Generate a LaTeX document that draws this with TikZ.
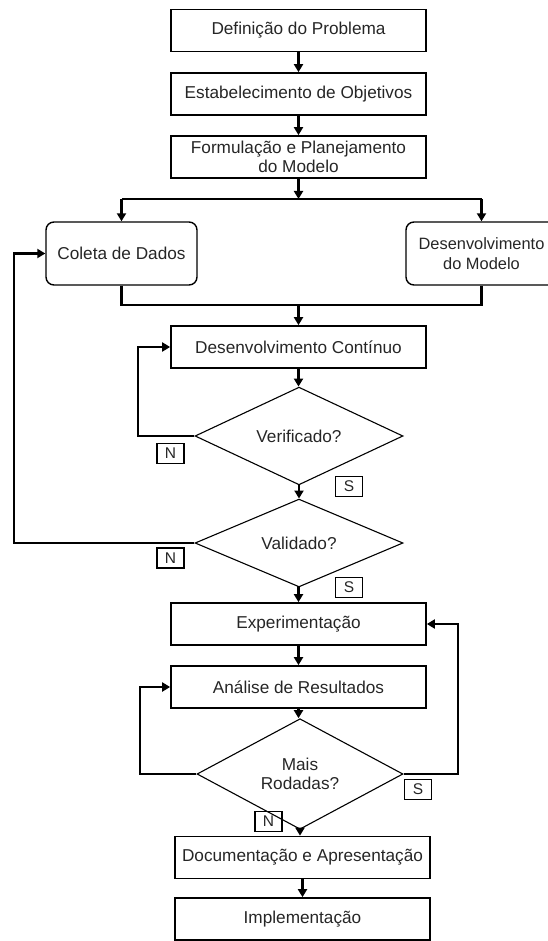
\documentclass[tikz,border=0pt]{standalone}
\usepackage{fontspec}
\setmainfont{Liberation Sans}
\usetikzlibrary{shapes.geometric,arrows.meta}
\begin{document}
\begin{tikzpicture}[x=1pt,y=-1pt,
  every node/.style={font=\fontsize{17.2}{19.5}\selectfont, text=black!85},
  proc/.style={draw, line width=1.7pt, minimum width=255pt, minimum height=42pt,
               inner sep=0pt, align=center},
  side/.style={draw, line width=1.4pt, rounded corners=8pt, minimum width=151pt,
               minimum height=63pt, inner sep=0pt, align=center},
  decision/.style={draw, diamond, line width=1.1pt, minimum width=208pt,
               minimum height=82pt, inner sep=0pt, align=center},
  tag/.style={draw, line width=1.4pt, minimum width=27pt, minimum height=20pt,
              inner sep=0pt, font=\fontsize{15.5}{15.5}\selectfont},
  flow/.style={line width=2.6pt, -{Triangle[length=8pt,width=9pt]}},
  link/.style={line width=2.6pt},
]
\useasboundingbox (0,0) rectangle (548,941);

% main chain of process boxes
\node[proc] (p1) at (298.5,30.5) {Definição do Problema};
\node[proc] (p2) at (298.5,94) {Estabelecimento de Objetivos};
\node[proc] (p3) at (298.5,157) {Formulação e Planejamento\\do Modelo};
\node[side] (coleta) at (121.5,253.5) {Coleta de Dados};
\node[side, font=\fontsize{16.4}{19.5}\selectfont] (desmod) at (481.5,253.5)
  {Desenvolvimento\\do Modelo};
\node[proc] (dc) at (298.5,347) {Desenvolvimento Contínuo};
\node[decision] (ver) at (299,436) {Verificado?};
\node[decision] (val) at (299,543) {Validado?};
\node[proc] (exp) at (298.5,624) {Experimentação};
\node[proc] (ana) at (298.5,687) {Análise de Resultados};
\node[decision, minimum width=206pt] (mais) at (300,774) {Mais\\Rodadas?};
\node[proc] (doc) at (302.5,857.5) {Documentação e Apresentação};
\node[proc] (imp) at (302.5,919) {Implementação};

% answer tags
\node[tag] (vn) at (170.5,453.5) {N};
\node[tag] (vs) at (349,486.5) {S};
\node[tag] (an) at (170.5,558) {N};
\node[tag] (as) at (349,587.5) {S};
\node[tag] (ms) at (418,789.5) {S};
\node[tag] (mn) at (268.5,821.5) {N};

% junction points and loop columns
\coordinate (split) at (298.5,199);
\coordinate (merge) at (298.5,305);
\coordinate (lv) at (138,0);
\coordinate (lval) at (14,0);
\coordinate (la) at (140,0);
\coordinate (ra) at (458,0);

% straight flow
\draw[flow] (p1.south) -- (p2.north);
\draw[flow] (p2.south) -- (p3.north);
\draw[flow] (p3.south) -- (split);
\draw[link] (coleta.north |- split) -- (desmod.north |- split);
\draw[flow] (coleta.north |- split) -- (coleta.north);
\draw[flow] (desmod.north |- split) -- (desmod.north);
\draw[link] (coleta.south) |- (merge) -| (desmod.south);
\draw[flow] (merge) -- (dc.north);
\draw[flow] (dc.south) -- (dc.south |- ver.north);
\draw[flow] (ver.south) -- (val.north);
\draw[flow] (val.south) -- (val.south -| exp.north) -- (exp.north);
\draw[flow] (exp.south) -- (ana.north);
\draw[flow] (ana.south) -- (ana.south |- mais.north);
\draw[flow] (mais.south) -- (mais.south |- doc.north);
\draw[flow] (doc.south) -- (imp.north);

% feedback loops
\draw[flow] (ver.west) -- (ver.west -| lv) |- (dc.west);
\draw[flow] (val.west) -- (val.west -| lval) |- (coleta.west);
\draw[flow] (mais.west) -- (mais.west -| la) |- (ana.west);
\draw[flow] (mais.east) -- (mais.east -| ra) |- (exp.east);
\end{tikzpicture}
\end{document}
